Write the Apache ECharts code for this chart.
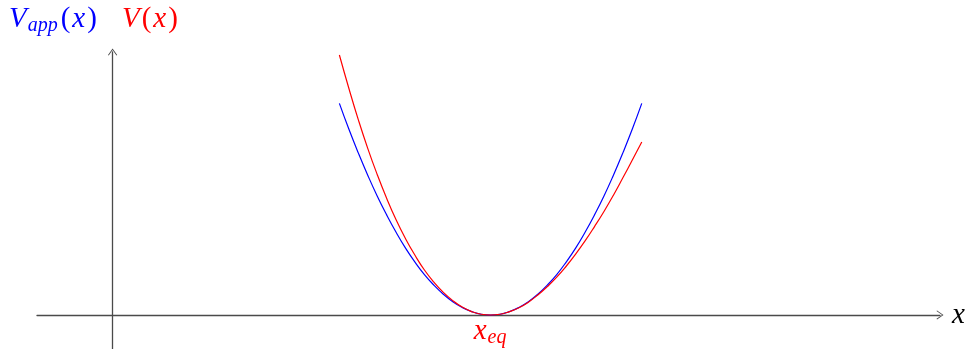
<!DOCTYPE html>
<html>
<head>
<meta charset="utf-8">
<script src="https://cdn.jsdelivr.net/npm/echarts@6/dist/echarts.min.js"></script>
<style>
  html, body { margin: 0; padding: 0; background: #fff; }
  #chart { width: 969px; height: 349px; }
</style>
</head>
<body>
<div id="chart"></div>
<script>
// x positions where the curves were read (same units as the axes, x_eq = 10)
const xPos = [6, 6.25, 6.5, 6.75, 7, 7.25, 7.5, 7.75, 8, 8.25, 8.5, 8.75, 9, 9.25, 9.5, 9.75,
              10, 10.25, 10.5, 10.75, 11, 11.25, 11.5, 11.75, 12, 12.25, 12.5, 12.75, 13, 13.25, 13.5, 13.75, 14];
// harmonic approximation V_app(x), blue
const vApp = [5.6, 4.92, 4.29, 3.70, 3.15, 2.65, 2.19, 1.77, 1.4, 1.07, 0.79, 0.55, 0.35, 0.20, 0.09, 0.02,
              0, 0.02, 0.09, 0.20, 0.35, 0.55, 0.79, 1.07, 1.4, 1.77, 2.19, 2.65, 3.15, 3.70, 4.29, 4.92, 5.6];
// real potential V(x), red
const vReal = [6.88, 6.00, 5.17, 4.41, 3.72, 3.09, 2.52, 2.02, 1.58, 1.19, 0.87, 0.60, 0.38, 0.21, 0.09, 0.02,
               0, 0.02, 0.09, 0.19, 0.34, 0.53, 0.75, 1.00, 1.29, 1.61, 1.96, 2.34, 2.74, 3.17, 3.63, 4.10, 4.58];
const xEq = 10;

const serif = '"Liberation Serif", "DejaVu Serif", serif';
const axisColor = '#4a4a4a';
// thin open arrow head, like tikz "->"
const arrowHead = 'path://M-5,7 L0,0 L5,7 L4.2,7.6 L0,1.5 L-4.2,7.6 Z';

function pairs(xs, ys) {
    return xs.map((x, i) => [x, ys[i]]);
}

// rich styles for math-like labels
function mathRich(color, key) {
    const base = { fontFamily: serif, fontStyle: 'italic', fontSize: 29 };
    const s = {
        m: Object.assign({}, base),
        p: Object.assign({}, base, { fontStyle: 'normal', padding: [0, 2, 0, 2] }),
        s: Object.assign({}, base, { fontSize: 20, padding: [13, 1, 0, 1] })
    };
    Object.keys(s).forEach(k => { s[k][key] = color; });
    return s;
}

const myChart = echarts.init(document.getElementById('chart'));
const option = {
    animation: false,
    grid: { left: 37, right: 29, top: 52, bottom: 0 },
    xAxis: {
        type: 'value',
        min: -2,
        max: 21.89,
        name: 'x',
        nameLocation: 'end',
        nameGap: 12,
        nameTextStyle: { fontFamily: serif, fontStyle: 'italic', fontSize: 29, color: '#000', verticalAlign: 'middle', padding: [0, 0, 6, 0] },
        axisLine: { onZero: true, lineStyle: { color: axisColor, width: 1.3 }, symbol: ['none', arrowHead], symbolSize: [11, 7] },
        axisTick: { show: false },
        axisLabel: { show: false },
        splitLine: { show: false }
    },
    yAxis: {
        type: 'value',
        min: -0.9,
        max: 6.96,
        axisLine: { onZero: true, lineStyle: { color: axisColor, width: 1.3 }, symbol: ['none', arrowHead], symbolSize: [11, 7] },
        axisTick: { show: false },
        axisLabel: { show: false },
        splitLine: { show: false }
    },
    graphic: [
        {
            type: 'text', left: 9, top: 5,
            style: { text: '{m|V}{s|app}{p|(}{m|x}{p|)}', rich: mathRich('#0000ff', 'fill') }
        },
        {
            type: 'text', left: 122, top: 5,
            style: { text: '{m|V}{p|(}{m|x}{p|)}', rich: mathRich('#ff0000', 'fill') }
        }
    ],
    series: [
        {
            name: 'V_app(x)',
            type: 'line',
            smooth: true,
            showSymbol: false,
            lineStyle: { color: '#0000ff', width: 1.2 },
            data: pairs(xPos, vApp)
        },
        {
            name: 'V(x)',
            type: 'line',
            smooth: true,
            showSymbol: false,
            lineStyle: { color: '#ff0000', width: 1.2 },
            data: pairs(xPos, vReal),
            markPoint: {
                symbol: 'circle',
                symbolSize: 0,
                label: {
                    show: true,
                    position: 'bottom',
                    distance: 0,
                    formatter: '{m|x}{s|eq}',
                    rich: mathRich('#ff0000', 'color')
                },
                data: [{ coord: [xEq, 0] }]
            }
        }
    ]
};
myChart.setOption(option);
</script>
</body>
</html>
